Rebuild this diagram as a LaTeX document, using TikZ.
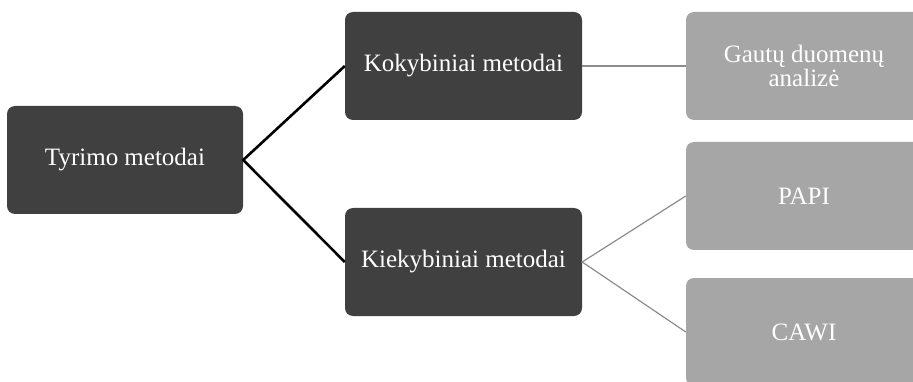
\documentclass[tikz,border=0pt]{standalone}
\usepackage{fontspec}
\setmainfont{Liberation Serif}
\definecolor{darkbox}{HTML}{404040}
\definecolor{lightbox}{HTML}{A6A6A6}
\definecolor{greyline}{HTML}{8C8C8C}
\begin{document}
\begin{tikzpicture}[x=1pt,y=-1pt,
  darknode/.style={fill=darkbox, rounded corners=8pt, text=white, align=center, inner sep=0pt, font=\fontsize{25}{27}\selectfont},
  lightnode/.style={fill=lightbox, rounded corners=8pt, text=white, align=center, inner sep=0pt, font=\fontsize{25}{24}\selectfont},
  thickconn/.style={draw=black, line width=2.6pt},
  thinconn/.style={draw=greyline, line width=1.2pt}]
\useasboundingbox (0,0) rectangle (913,382);
\clip (0,0) rectangle (913,382);
\node[darknode, minimum width=236pt, minimum height=108pt] (tyr) at (125,160) {Tyrimo metodai};
\node[darknode, minimum width=237pt, minimum height=108pt] (kok) at (463.5,66) {Kokybiniai metodai};
\node[darknode, minimum width=237pt, minimum height=108pt] (kie) at (463.5,262) {Kiekybiniai metodai};
\node[lightnode, minimum width=236pt, minimum height=108pt] (gau) at (804,66) {Gautų duomenų\\analizė};
\node[lightnode, minimum width=236pt, minimum height=108pt] (papi) at (804,196) {PAPI};
\node[lightnode, minimum width=236pt, minimum height=108pt] (cawi) at (804,332) {CAWI};
\draw[thickconn] (kok.west) -- (tyr.east) -- (kie.west);
\draw[thinconn] (kok.east) -- (gau.west);
\draw[thinconn] (papi.west) -- (kie.east) -- (cawi.west);
\end{tikzpicture}
\end{document}
